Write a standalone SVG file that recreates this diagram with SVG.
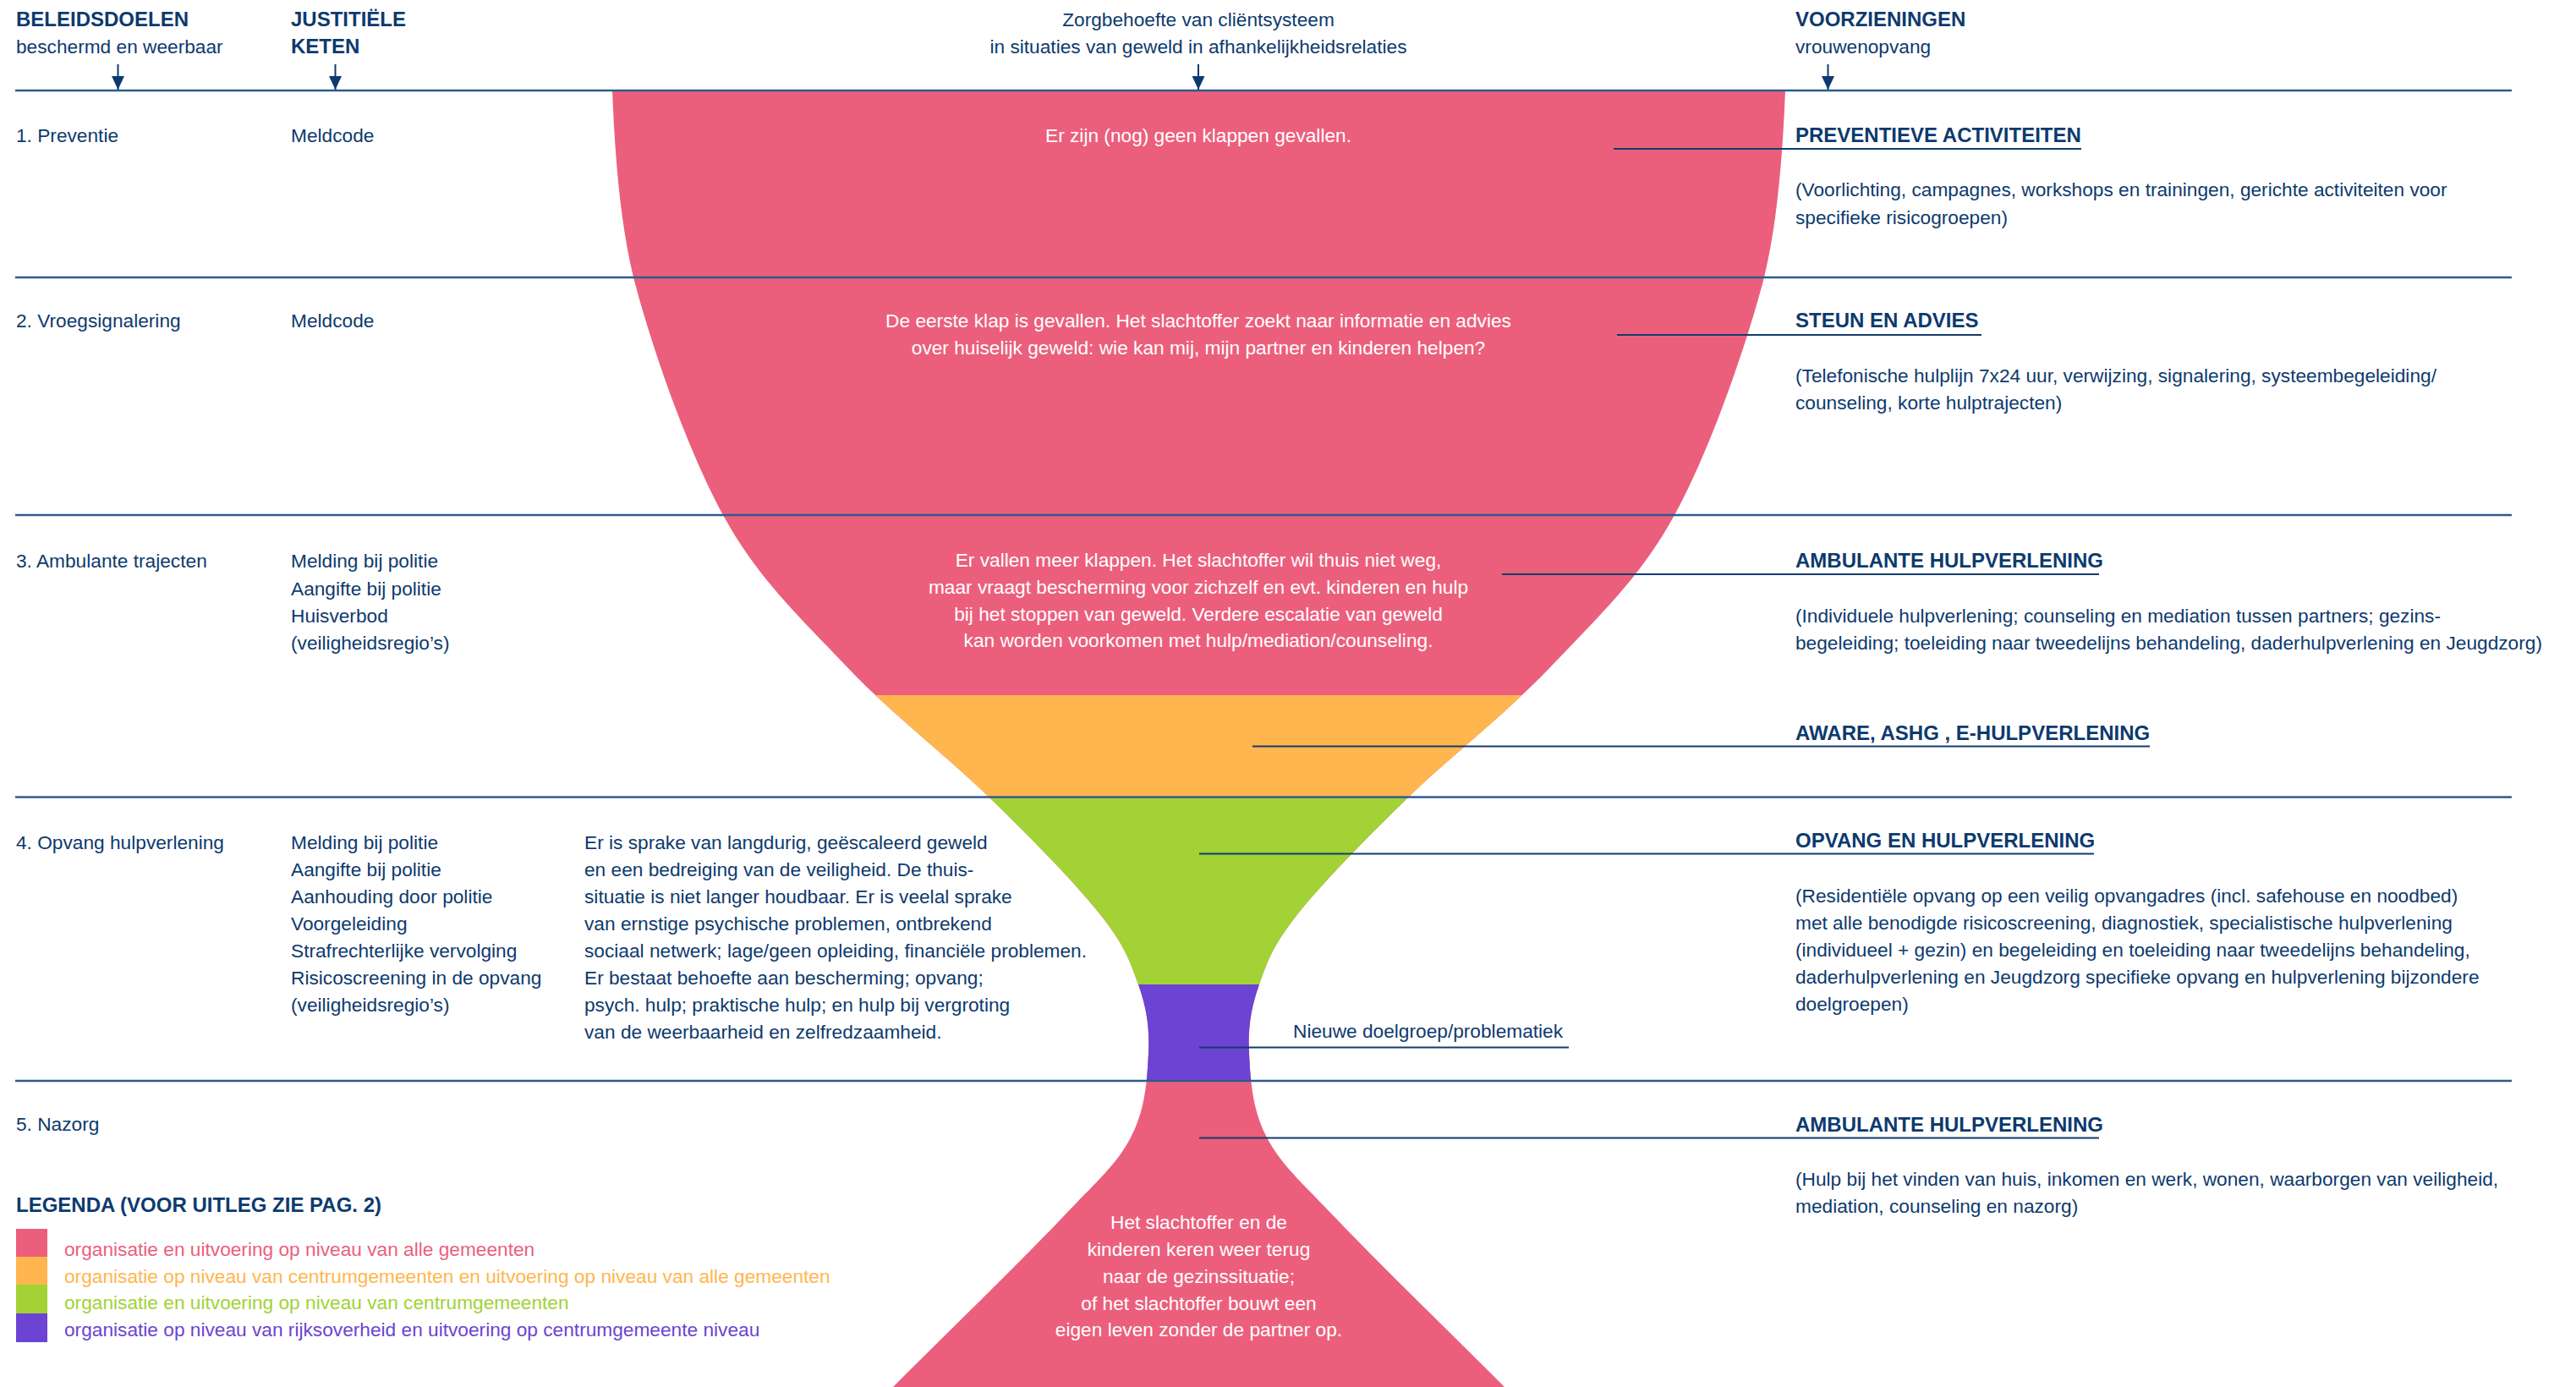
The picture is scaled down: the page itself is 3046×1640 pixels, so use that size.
<svg xmlns="http://www.w3.org/2000/svg" width="3046" height="1640" viewBox="0 0 3046 1640">
<style>
.t{font-family:"Liberation Sans",Arial,sans-serif;font-size:22.7px;fill:#0D3A6E}
.b{font-weight:bold;font-size:24px}
.w{fill:#FFFFFF}
.c{text-anchor:middle}
.rule{stroke:#2F5B8E;stroke-width:2.5;fill:none}
.lead{stroke:#123C6E;stroke-width:2;fill:none}
.arr{stroke:#0D3A6E;stroke-width:2;fill:none}
</style>
<defs>
<marker id="ah" viewBox="0 0 16 15" refX="16" refY="7.5" markerWidth="16" markerHeight="15" markerUnits="userSpaceOnUse" orient="auto">
<path d="M0,0 L16,7.5 L0,15 Z" fill="#0D3A6E"/>
</marker>
<clipPath id="glass">
<path id="glassPath" d="M724,107 C727,181 733,262 749,328 C770.8,411.7 813.2,532.5 855,609 C896.8,685.5 947.7,731.5 1000,787 C1052.3,842.5 1119,893.2 1169,942 C1219,990.8 1270.5,1043 1300,1080 C1329.5,1117 1336.3,1136.5 1346,1164 C1355.7,1191.5 1359.5,1214.8 1358,1245 C1356.5,1275.2 1354.7,1311.8 1337,1345 C1319.3,1378.2 1298.8,1394.8 1252,1444 C1205.2,1493.2 1121.3,1574.7 1056,1640 L1779,1640 C1713.7,1574.7 1629.8,1493.2 1583,1444 C1536.2,1394.8 1515.7,1378.2 1498,1345 C1480.3,1311.8 1478.5,1275.2 1477,1245 C1475.5,1214.8 1479.3,1191.5 1489,1164 C1498.7,1136.5 1505.5,1117 1535,1080 C1564.5,1043 1616,990.8 1666,942 C1716,893.2 1782.7,842.5 1835,787 C1887.3,731.5 1938.2,685.5 1980,609 C2021.8,532.5 2064.2,411.7 2086,328 C2102,262 2108,181 2111,107 Z"/>
</clipPath>
</defs>
<rect x="0" y="0" width="3046" height="1640" fill="#FFFFFF"/>

<g id="glass-shape" clip-path="url(#glass)">
<rect x="700" y="100" width="1450" height="1545" fill="#EB5F7D"/>
<rect x="700" y="822" width="1450" height="121" fill="#FFB64E"/>
<rect x="700" y="942.5" width="1450" height="221.5" fill="#A2D236"/>
<rect x="700" y="1164" width="1450" height="114" fill="#6C43D2"/>
</g>

<g id="connectors">
<line class="rule" x1="18" y1="107" x2="2970" y2="107"/>
<line class="rule" x1="18" y1="328" x2="2970" y2="328"/>
<line class="rule" x1="18" y1="609" x2="2970" y2="609"/>
<line class="rule" x1="18" y1="942.5" x2="2970" y2="942.5"/>
<line class="rule" x1="18" y1="1278" x2="2970" y2="1278"/>
<line class="arr" x1="139.5" y1="76" x2="139.5" y2="106" marker-end="url(#ah)"/>
<line class="arr" x1="396.5" y1="76" x2="396.5" y2="106" marker-end="url(#ah)"/>
<line class="arr" x1="1417" y1="76" x2="1417" y2="106" marker-end="url(#ah)"/>
<line class="arr" x1="2161.5" y1="76" x2="2161.5" y2="106" marker-end="url(#ah)"/>
<line class="lead" x1="1908" y1="176" x2="2461" y2="176"/>
<line class="lead" x1="1912" y1="396" x2="2343" y2="396"/>
<line class="lead" x1="1776" y1="679" x2="2482" y2="679"/>
<line class="lead" x1="1481" y1="882.5" x2="2542" y2="882.5"/>
<line class="lead" x1="1418" y1="1009.5" x2="2476" y2="1009.5"/>
<line class="lead" x1="1418" y1="1238.5" x2="1855" y2="1238.5"/>
<line class="lead" x1="1418" y1="1345.5" x2="2482" y2="1345.5"/>
</g>

<g id="header-beleidsdoelen">
<text class="t b" x="19" y="31">BELEIDSDOELEN</text>
<text class="t" x="19" y="63">beschermd en weerbaar</text>
</g>
<g id="header-justitiele">
<text class="t b" x="344" y="31">JUSTITIËLE</text>
<text class="t b" x="344" y="63">KETEN</text>
</g>
<g id="header-zorgbehoefte">
<text class="t c" x="1417" y="31">Zorgbehoefte van cliëntsysteem</text>
<text class="t c" x="1417" y="63">in situaties van geweld in afhankelijkheidsrelaties</text>
</g>
<g id="header-voorzieningen">
<text class="t b" x="2123" y="31">VOORZIENINGEN</text>
<text class="t" x="2123" y="63">vrouwenopvang</text>
</g>

<g id="row1">
<text class="t" x="19" y="168">1. Preventie</text>
<text class="t" x="344" y="168">Meldcode</text>
<text class="t w c" x="1417" y="168">Er zijn (nog) geen klappen gevallen.</text>
</g>
<g id="voorziening1">
<text class="t b" x="2123" y="168">PREVENTIEVE ACTIVITEITEN</text>
<text class="t" x="2123" y="232">(Voorlichting, campagnes, workshops en trainingen, gerichte activiteiten voor</text>
<text class="t" x="2123" y="264.5">specifieke risicogroepen)</text>
</g>

<g id="row2">
<text class="t" x="19" y="387">2. Vroegsignalering</text>
<text class="t" x="344" y="387">Meldcode</text>
<text class="t w c" x="1417" y="387">De eerste klap is gevallen. Het slachtoffer zoekt naar informatie en advies</text>
<text class="t w c" x="1417" y="419">over huiselijk geweld: wie kan mij, mijn partner en kinderen helpen?</text>
</g>
<g id="voorziening2">
<text class="t b" x="2123" y="387">STEUN EN ADVIES</text>
<text class="t" x="2123" y="451.5">(Telefonische hulplijn 7x24 uur, verwijzing, signalering, systeembegeleiding/</text>
<text class="t" x="2123" y="483.5">counseling, korte hulptrajecten)</text>
</g>

<g id="row3">
<text class="t" x="19" y="671">3. Ambulante trajecten</text>
<text class="t" x="344" y="671">Melding bij politie</text>
<text class="t" x="344" y="703.5">Aangifte bij politie</text>
<text class="t" x="344" y="736">Huisverbod</text>
<text class="t" x="344" y="768">(veiligheidsregio’s)</text>
<text class="t w c" x="1417" y="670">Er vallen meer klappen. Het slachtoffer wil thuis niet weg,</text>
<text class="t w c" x="1417" y="702">maar vraagt bescherming voor zichzelf en evt. kinderen en hulp</text>
<text class="t w c" x="1417" y="733.5">bij het stoppen van geweld. Verdere escalatie van geweld</text>
<text class="t w c" x="1417" y="765">kan worden voorkomen met hulp/mediation/counseling.</text>
</g>
<g id="voorziening3">
<text class="t b" x="2123" y="671">AMBULANTE HULPVERLENING</text>
<text class="t" x="2123" y="736">(Individuele hulpverlening; counseling en mediation tussen partners; gezins-</text>
<text class="t" x="2123" y="768">begeleiding; toeleiding naar tweedelijns behandeling, daderhulpverlening en Jeugdzorg)</text>
</g>
<g id="voorziening-aware">
<text class="t b" x="2123" y="875">AWARE, ASHG , E-HULPVERLENING</text>
</g>

<g id="row4">
<text class="t" x="19" y="1004">4. Opvang hulpverlening</text>
<text class="t" x="344" y="1004">Melding bij politie</text>
<text class="t" x="344" y="1036">Aangifte bij politie</text>
<text class="t" x="344" y="1068">Aanhouding door politie</text>
<text class="t" x="344" y="1100">Voorgeleiding</text>
<text class="t" x="344" y="1132">Strafrechterlijke vervolging</text>
<text class="t" x="344" y="1164">Risicoscreening in de opvang</text>
<text class="t" x="344" y="1196">(veiligheidsregio’s)</text>
<text class="t" x="691" y="1004">Er is sprake van langdurig, geëscaleerd geweld</text>
<text class="t" x="691" y="1036">en een bedreiging van de veiligheid. De thuis-</text>
<text class="t" x="691" y="1068">situatie is niet langer houdbaar. Er is veelal sprake</text>
<text class="t" x="691" y="1100">van ernstige psychische problemen, ontbrekend</text>
<text class="t" x="691" y="1132">sociaal netwerk; lage/geen opleiding, financiële problemen.</text>
<text class="t" x="691" y="1164">Er bestaat behoefte aan bescherming; opvang;</text>
<text class="t" x="691" y="1196">psych. hulp; praktische hulp; en hulp bij vergroting</text>
<text class="t" x="691" y="1228">van de weerbaarheid en zelfredzaamheid.</text>
</g>
<g id="voorziening4">
<text class="t b" x="2123" y="1002">OPVANG EN HULPVERLENING</text>
<text class="t" x="2123" y="1066.5">(Residentiële opvang op een veilig opvangadres (incl. safehouse en noodbed)</text>
<text class="t" x="2123" y="1098.5">met alle benodigde risicoscreening, diagnostiek, specialistische hulpverlening</text>
<text class="t" x="2123" y="1131">(individueel + gezin) en begeleiding en toeleiding naar tweedelijns behandeling,</text>
<text class="t" x="2123" y="1163">daderhulpverlening en Jeugdzorg specifieke opvang en hulpverlening bijzondere</text>
<text class="t" x="2123" y="1195">doelgroepen)</text>
</g>
<g id="nieuwe-doelgroep">
<text class="t" x="1529" y="1227">Nieuwe doelgroep/problematiek</text>
</g>

<g id="row5">
<text class="t" x="19" y="1337">5. Nazorg</text>
<text class="t w c" x="1417.5" y="1453">Het slachtoffer en de</text>
<text class="t w c" x="1417.5" y="1485">kinderen keren weer terug</text>
<text class="t w c" x="1417.5" y="1517">naar de gezinssituatie;</text>
<text class="t w c" x="1417.5" y="1549">of het slachtoffer bouwt een</text>
<text class="t w c" x="1417.5" y="1580">eigen leven zonder de partner op.</text>
</g>
<g id="voorziening5">
<text class="t b" x="2123" y="1338">AMBULANTE HULPVERLENING</text>
<text class="t" x="2123" y="1401.5">(Hulp bij het vinden van huis, inkomen en werk, wonen, waarborgen van veiligheid,</text>
<text class="t" x="2123" y="1434">mediation, counseling en nazorg)</text>
</g>

<g id="legenda">
<text class="t b" x="19" y="1433">LEGENDA (VOOR UITLEG ZIE PAG. 2)</text>
<rect x="19" y="1453" width="37" height="33" fill="#EB5F7D"/>
<rect x="19" y="1486" width="37" height="33" fill="#FFB64E"/>
<rect x="19" y="1519" width="37" height="34" fill="#A2D236"/>
<rect x="19" y="1553" width="37" height="34" fill="#6C43D2"/>
<text class="t" x="76" y="1485" style="fill:#EB5F7D">organisatie en uitvoering op niveau van alle gemeenten</text>
<text class="t" x="76" y="1517" style="fill:#FFB64E">organisatie op niveau van centrumgemeenten en uitvoering op niveau van alle gemeenten</text>
<text class="t" x="76" y="1548" style="fill:#A2D236">organisatie en uitvoering op niveau van centrumgemeenten</text>
<text class="t" x="76" y="1580" style="fill:#6C43D2">organisatie op niveau van rijksoverheid en uitvoering op centrumgemeente niveau</text>
</g>
</svg>
